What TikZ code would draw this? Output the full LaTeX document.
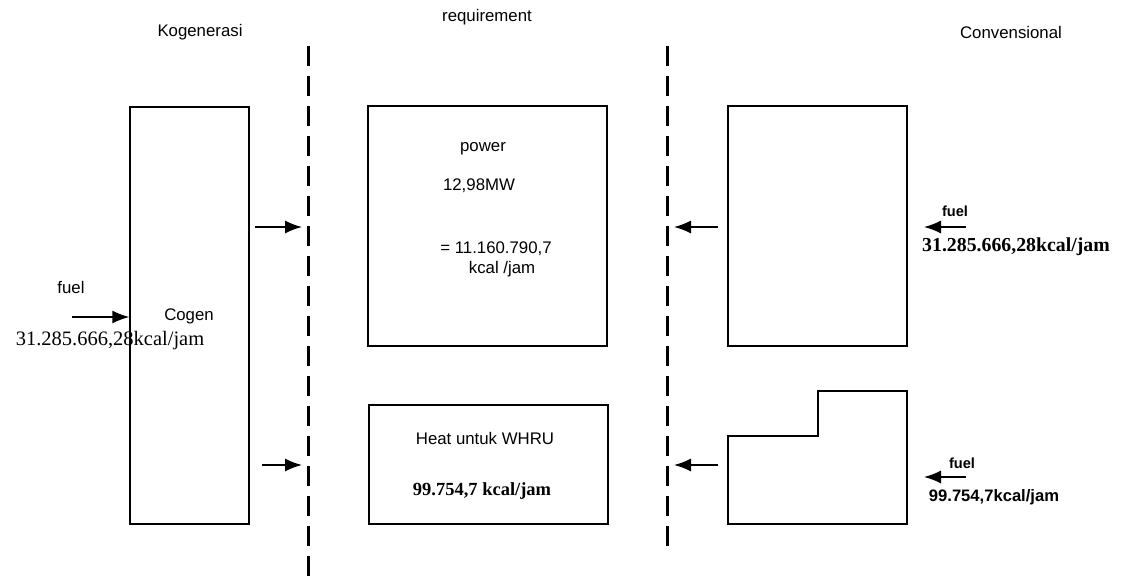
\documentclass[tikz,border=0pt]{standalone}
\usepackage{fontspec}
\setmainfont{Liberation Serif}
\setsansfont{Liberation Sans}
\usetikzlibrary{arrows.meta}
\begin{document}
\begin{tikzpicture}[x=1pt,y=-1pt,
  box/.style={draw,line width=1.4pt,inner sep=0pt},
  sep/.style={line width=3pt,dash pattern=on 20pt off 10pt},
  arr/.style={line width=1.5pt,-{Latex[length=17pt,width=13pt]}},
  lab/.style={font=\sffamily\fontsize{16.8}{19}\selectfont,inner sep=0pt},
  fuelb/.style={font=\sffamily\bfseries\fontsize{14.6}{17}\selectfont,inner sep=0pt},
  valser/.style={font=\rmfamily\fontsize{20.5}{24}\selectfont,inner sep=0pt},
  valserb/.style={font=\rmfamily\bfseries\fontsize{19.8}{24}\selectfont,inner sep=0pt}]
\useasboundingbox (0,0) rectangle (1123,578);
% titles
\node[lab] (tk) at (200,32) {Kogenerasi};
\node[lab] (tr) at (487,17) {requirement};
\node[lab] (tc) at (1011,32) {Convensional};
% separators
\coordinate (l1) at (308,46); \coordinate (l2) at (308,578);
\coordinate (r1) at (667,46); \coordinate (r2) at (667,552);
\draw[sep] (l1) -- (l2);
\draw[sep] (r1) -- (r2);
% boxes
\node[box,minimum width=119pt,minimum height=417pt] (cogen) at (189.5,315.5) {};
\node[lab] (cogent) at (189,316) {Cogen};
\node[box,minimum width=239pt,minimum height=240pt] (power) at (487.5,226) {};
\node[lab] (pw1) at (483,149) {power};
\node[lab] (pw2) at (479,186) {12,98MW};
\node[lab] (pw3) at (496,249) {= 11.160.790,7};
\node[lab] (pw4) at (502,269) {kcal /jam};
\node[box,minimum width=239pt,minimum height=119pt] (heat) at (488.5,464.5) {};
\node[lab] (ht1) at (485,438) {Heat untuk WHRU};
\node[valserb,font=\rmfamily\bfseries\fontsize{18.5}{22}\selectfont] (ht2) at (482,491) {99.754,7 kcal/jam};
\node[box,minimum width=179pt,minimum height=240pt] (conv) at (817.5,226) {};
\coordinate (s1) at (818,391); \coordinate (s2) at (907,391);
\coordinate (s3) at (907,524); \coordinate (s4) at (728,524);
\coordinate (s5) at (728,436); \coordinate (s6) at (818,436);
\draw[line width=1.4pt] (s1) -- (s2) -- (s3) -- (s4) -- (s5) -- (s6) -- cycle;
% left fuel
\node[lab] (lf) at (71,287) {fuel};
\node[valser] (lfv) at (110,341) {31.285.666,28kcal/jam};
\coordinate (lfa) at (72,317);
\draw[arr] (lfa) -- (cogen.west |- lfa);
% cogen to requirement
\coordinate (ca) at (255,227); \coordinate (cb) at (302,227);
\coordinate (cc) at (262,465); \coordinate (cd) at (302,465);
\draw[arr] (ca) -- (cb);
\draw[arr] (cc) -- (cd);
% conventional to requirement
\coordinate (va) at (718,227); \coordinate (vb) at (674,227);
\coordinate (vc) at (718,465); \coordinate (vd) at (674,465);
\draw[arr] (va) -- (vb);
\draw[arr] (vc) -- (vd);
% right fuel
\coordinate (fa) at (966,227); \coordinate (fb) at (924,227);
\coordinate (fc) at (966,477); \coordinate (fd) at (924,477);
\draw[arr] (fa) -- (fb);
\draw[arr] (fc) -- (fd);
\node[fuelb] (rf1) at (955,211) {fuel};
\node[valserb] (rfv1) at (1016,247) {31.285.666,28kcal/jam};
\node[fuelb] (rf2) at (962,463) {fuel};
\node[font=\sffamily\bfseries\fontsize{16.6}{19}\selectfont,inner sep=0pt] (rfv2) at (994,497) {99.754,7kcal/jam};
\end{tikzpicture}
\end{document}
